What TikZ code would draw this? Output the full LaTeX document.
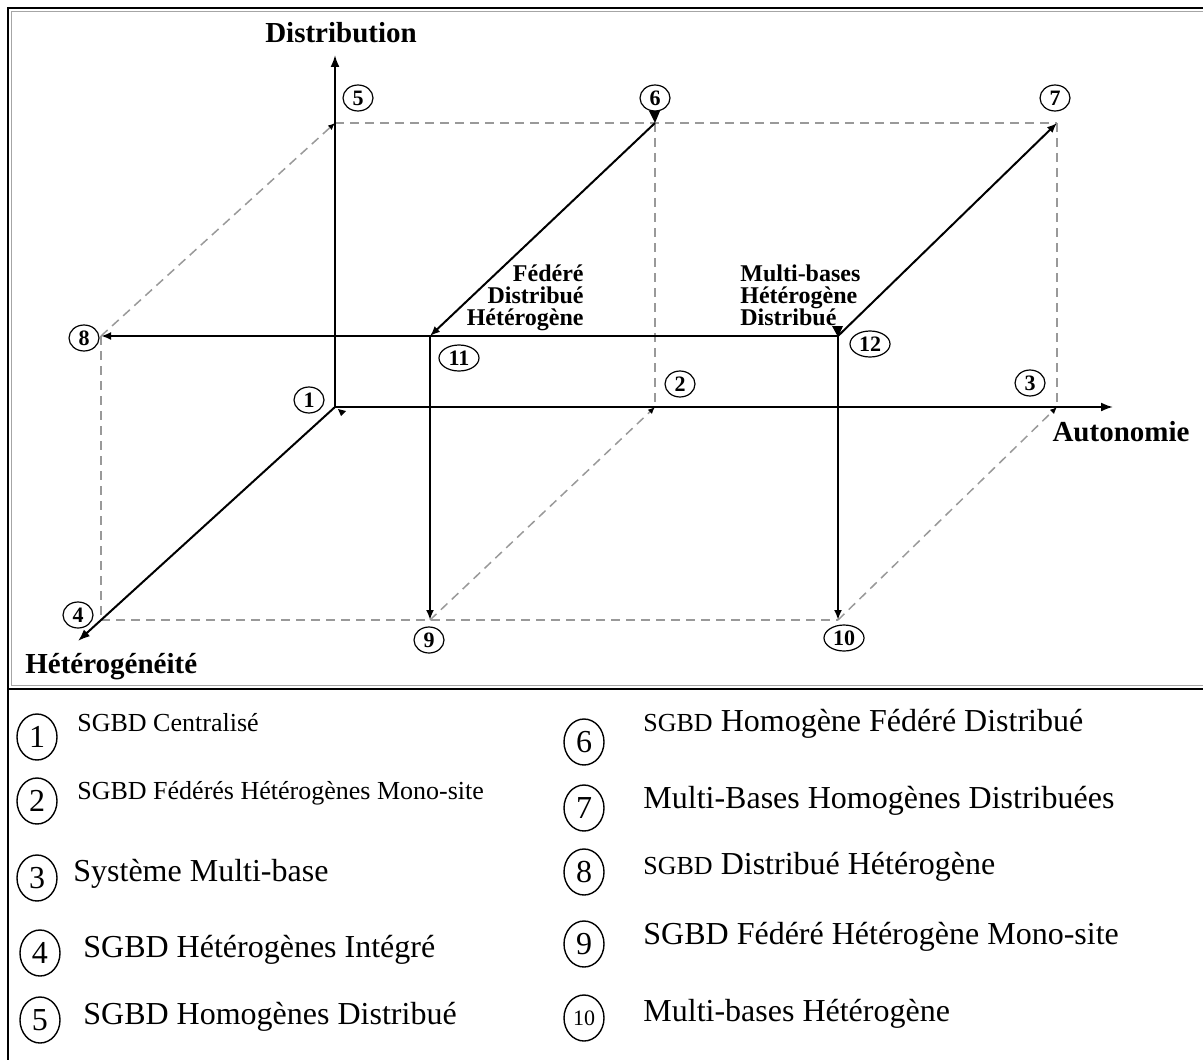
\documentclass[tikz,border=0pt]{standalone}
\usepackage{fontspec}
\setmainfont{Liberation Serif}
\usetikzlibrary{arrows.meta,shapes.geometric}

\newcommand{\smallsz}{\fontsize{13}{13}\selectfont}
\newcommand{\largesz}{\fontsize{16}{16}\selectfont}

\begin{document}
\begin{tikzpicture}[x=0.5pt,y=-0.5pt,
  axis/.style={line width=1pt,-{Latex[length=6pt,width=4.5pt]}},
  edgeline/.style={line width=1pt},
  headtip/.style={-{Latex[length=5pt,width=4pt]}},
  guide/.style={draw=gray!80, line width=0.75pt, dash pattern=on 4.5pt off 3pt},
  guidetip/.style={-{Latex[length=3.5pt,width=3pt,color=black]}},
  tag/.style={ellipse, draw, line width=0.6pt, inner sep=0pt,
    minimum width=15pt, minimum height=13pt,
    font=\fontsize{11}{11}\selectfont\bfseries},
  widetag/.style={tag, minimum width=20pt},
  axislabel/.style={font=\fontsize{14.5}{14.5}\selectfont\bfseries, inner sep=0pt},
  groupnote/.style={font=\fontsize{12}{11}\selectfont\bfseries, inner sep=0pt},
  keytag/.style={ellipse, draw, line width=0.7pt, inner sep=0pt,
    minimum width=20pt, minimum height=23pt, font=\largesz},
  keytext/.style={anchor=base west, inner sep=0pt},
]
\useasboundingbox (0,0) rectangle (1203,1059);
\clip (0,0) rectangle (1203,1059);

% ---- frame: double border of the cube panel, legend panel below ----
\draw[line width=1.2pt] (8,1080) -- (8,8) -- (1220,8);
\draw[gray!70, line width=0.5pt] (11.5,686) -- (11.5,11.5) -- (1220,11.5);
\draw[gray!70, line width=0.5pt] (11.5,685.5) -- (1220,685.5);
\draw[line width=1.4pt] (8,689) -- (1220,689);

% ---- corners of the cube ----
\coordinate (p1) at (335,407);
\coordinate (p2) at (655,407);
\coordinate (p3) at (1057,407);
\coordinate (p4) at (101,620);
\coordinate (p5) at (335,123);
\coordinate (p6) at (655,123);
\coordinate (p7) at (1057,123);
\coordinate (p8) at (101,336);
\coordinate (p9) at (430,620);
\coordinate (p10) at (838,620);
\coordinate (p11) at (430,336);
\coordinate (p12) at (838,336);
% axis ends
\coordinate (dtop) at (335,55);
\coordinate (aend) at (1113,407);
\coordinate (hend) at (78,641);

% ---- dashed edges ----
\draw[guide] (p5) -- (p7);
\draw[guide] (p6) -- (p2);
\draw[guide] (p7) -- (p3);
\draw[guide] (p8) -- (p4);
\draw[guide] (p4) -- (p10);
\draw[guide, guidetip] (p8) -- (p5);
\draw[guide, guidetip] (p9) -- (p2);
\draw[guide, guidetip] (p10) -- (p3);

% ---- axes ----
\draw[axis] (p1) -- (dtop);
\draw[axis] (p1) -- (aend);
\draw[axis] (p1) -- (hend);
\fill (338,409) -- (346,411) -- (341,416) -- cycle;

% ---- solid edges ----
\draw[edgeline, headtip] (p12) -- (p8);
\draw[edgeline, headtip] (p11) -- (p9);
\draw[edgeline, headtip] (p12) -- (p10);
\draw[edgeline, headtip] (p6) -- (p11);
\draw[edgeline, headtip] (p12) -- (p7);
% small end marks at corners 6 and 12
\fill (649,111) -- (660,111) -- (655,123) -- cycle;
\fill (832,326) -- (843,326) -- (838,337) -- cycle;

% ---- axis names ----
\node[axislabel] (ldist) at (341,33) {Distribution};
\node[axislabel] (lauto) at (1121,432) {Autonomie};
\node[axislabel, anchor=west] (lhet) at (25,667) {Hétérogénéité};

\node[groupnote, align=right, anchor=north east] (g11) at (584,264)
  {Fédéré\\Distribué\\Hétérogène};
\node[groupnote, align=left, anchor=north west] (g12) at (740,264)
  {Multi-bases\\Hétérogène\\Distribué};

% ---- numbered tags ----
\node[tag] (c1) at (309,400) {1};
\node[tag] (c2) at (680,384) {2};
\node[tag] (c3) at (1030,383) {3};
\node[tag] (c4) at (78,615) {4};
\node[tag] (c5) at (358,98) {5};
\node[tag] (c6) at (655,98) {6};
\node[tag] (c7) at (1055,98) {7};
\node[tag] (c8) at (84,338) {8};
\node[tag] (c9) at (429,640) {9};
\node[widetag] (c10) at (844,638) {10};
\node[widetag] (c11) at (459,358) {11};
\node[widetag] (c12) at (870,344) {12};

% ---- legend ----
\node[keytag] (k1) at (37,737) {1};
\node[keytag] (k2) at (37,801) {2};
\node[keytag] (k3) at (37,878) {3};
\node[keytag] (k4) at (40,953) {4};
\node[keytag] (k5) at (40,1020) {5};
\node[keytext, font=\smallsz] (t1) at (77,731) {SGBD Centralisé};
\node[keytext, font=\smallsz] (t2) at (77,799) {SGBD Fédérés Hétérogènes Mono-site};
\node[keytext, font=\largesz] (t3) at (73,881) {Système Multi-base};
\node[keytext, font=\largesz] (t4) at (83,957) {SGBD Hétérogènes Intégré};
\node[keytext, font=\largesz] (t5) at (83,1024) {SGBD Homogènes Distribué};

\node[keytag] (k6) at (584,742) {6};
\node[keytag] (k7) at (584,808) {7};
\node[keytag] (k8) at (584,872) {8};
\node[keytag] (k9) at (584,944) {9};
\node[keytag, font=\fontsize{11}{11}\selectfont] (k10) at (584,1018) {10};
\node[keytext, font=\largesz] (t6) at (643,731) {{\smallsz SGBD} Homogène Fédéré Distribué};
\node[keytext, font=\largesz] (t7) at (643,808) {Multi-Bases Homogènes Distribuées};
\node[keytext, font=\largesz] (t8) at (643,874) {{\smallsz SGBD} Distribué Hétérogène};
\node[keytext, font=\largesz] (t9) at (643,944) {SGBD Fédéré Hétérogène Mono-site};
\node[keytext, font=\largesz] (t10) at (643,1021) {Multi-bases Hétérogène};
\end{tikzpicture}
\end{document}
